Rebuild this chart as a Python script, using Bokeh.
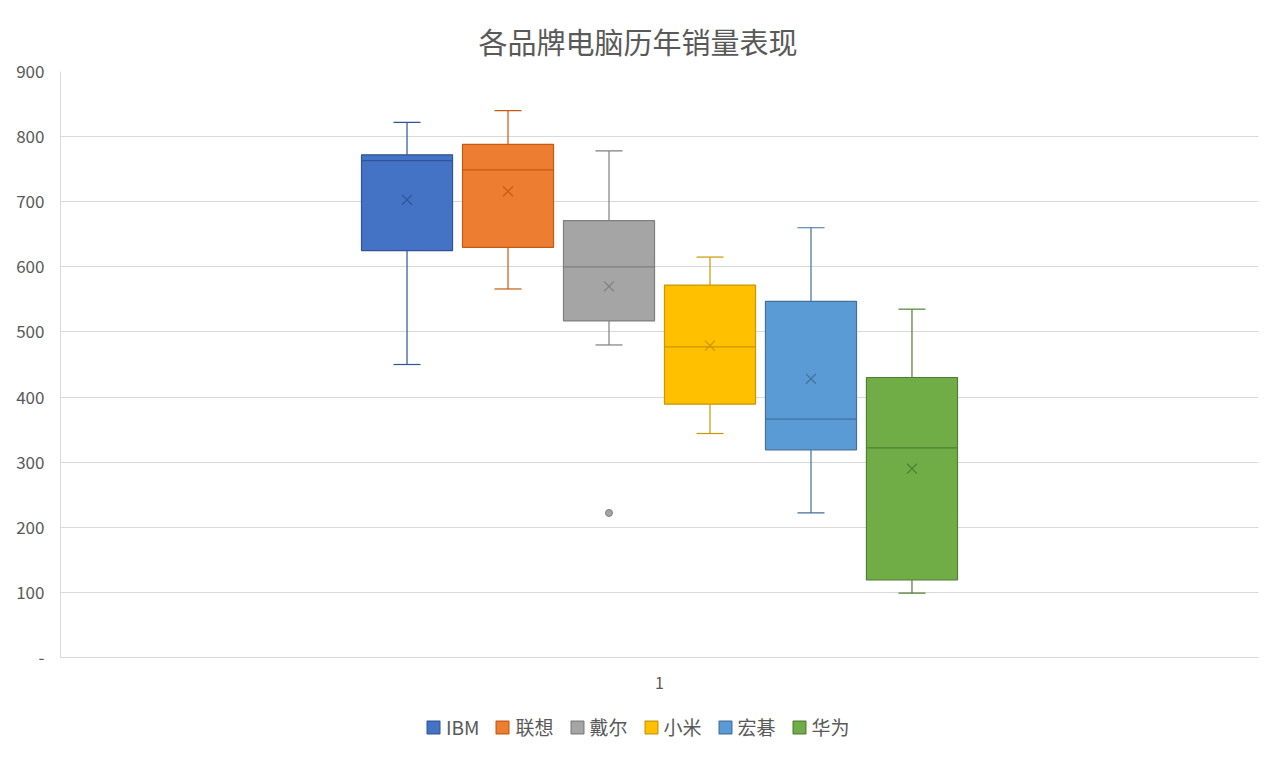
from bokeh.plotting import figure
from bokeh.layouts import column
from bokeh.models import FactorRange, Range1d, Legend, LegendItem, Title, ColumnDataSource, FixedTicker
from bokeh.transform import dodge
from bokeh.embed import file_html
from bokeh.resources import INLINE

# ---- data ----
category = ["1"]
brands = ["IBM", "联想", "戴尔", "小米", "宏碁", "华为"]
whisker_low = [450, 566, 480, 344, 222, 99]
q1 = [625, 630, 517, 389, 319, 119]
median = [763, 749, 600, 477, 366, 322]
q3 = [772, 788, 671, 572, 547, 430]
whisker_high = [822, 840, 778, 615, 660, 535]
mean = [703, 716, 570, 479, 428, 290]
outlier_brand = ["戴尔"]
outlier_value = [222]
y_ticks = [0, 100, 200, 300, 400, 500, 600, 700, 800, 900]
y_tick_labels = ["-", "100", "200", "300", "400", "500", "600", "700", "800", "900"]

# ---- styles ----
fills = ["#4472C4", "#ED7D31", "#A5A5A5", "#FFC000", "#5B9BD5", "#70AD47"]
lines = ["#2F5597", "#C55A11", "#7F7F7F", "#C99700", "#41719C", "#507E32"]
TXT = "#595959"
FONT = "Noto Sans CJK SC"

p = figure(width=1277, height=700, x_range=FactorRange(factors=category, range_padding=0),
           y_range=Range1d(0, 900), output_backend="svg", toolbar_location=None,
           min_border_left=60, min_border_right=19, min_border_top=71, min_border_bottom=43)
p.outline_line_color = None
p.background_fill_color = "white"
p.border_fill_color = "white"

title = Title(text="各品牌电脑历年销量表现", align="left", text_font=FONT, text_font_size="29px",
              text_font_style="normal", text_color=TXT, standoff=20, offset=418)
p.add_layout(title, "above")

p.xgrid.grid_line_color = None
p.ygrid.grid_line_color = "#D9D9D9"
p.ygrid.ticker = FixedTicker(ticks=y_ticks)

p.yaxis.ticker = FixedTicker(ticks=y_ticks)
p.yaxis.major_label_overrides = {t: l for t, l in zip(y_ticks, y_tick_labels)}
p.yaxis.axis_line_color = "#D9D9D9"
p.yaxis.major_tick_line_color = None
p.yaxis.minor_tick_line_color = None
p.yaxis.major_label_text_font = FONT
p.yaxis.major_label_text_font_size = "17px"
p.yaxis.major_label_text_color = TXT
p.yaxis.major_label_standoff = 10

p.xaxis.axis_line_color = "#D9D9D9"
p.xaxis.major_tick_line_color = None
p.xaxis.minor_tick_line_color = None
p.xaxis.major_label_text_font = FONT
p.xaxis.major_label_text_font_size = "16px"
p.xaxis.major_label_text_color = TXT
p.xaxis.major_label_standoff = 13

step = 0.0843
box_w = 0.076

# legend strip below the chart
lg = figure(width=1277, height=66, x_range=Range1d(0, 1), y_range=Range1d(0, 1),
            output_backend="svg", toolbar_location=None,
            x_axis_location=None, y_axis_location=None,
            min_border_left=0, min_border_right=0, min_border_top=0, min_border_bottom=0)
lg.grid.grid_line_color = None
lg.outline_line_color = None
lg.border_fill_color = "white"
lg.background_fill_color = "white"

items = []
for i, b in enumerate(brands):
    off = (i - 2.5) * step
    src = ColumnDataSource(dict(cat=category, lo=[whisker_low[i]], q1=[q1[i]], med=[median[i]],
                                q3=[q3[i]], hi=[whisker_high[i]], mean=[mean[i]]))
    xs = dodge("cat", off, range=p.x_range)
    p.segment(x0=xs, y0="q3", x1=xs, y1="hi", source=src, line_color=lines[i], line_width=1.2)
    p.segment(x0=xs, y0="lo", x1=xs, y1="q1", source=src, line_color=lines[i], line_width=1.2)
    p.scatter(x=xs, y="hi", source=src, marker="dash", size=27, line_color=lines[i], line_width=1.2)
    p.scatter(x=xs, y="lo", source=src, marker="dash", size=27, line_color=lines[i], line_width=1.2)
    p.vbar(x=xs, top="q3", bottom="q1", width=box_w, source=src,
           fill_color=fills[i], line_color=lines[i], line_width=1.2)
    p.segment(x0=dodge("cat", off - box_w / 2, range=p.x_range), y0="med",
              x1=dodge("cat", off + box_w / 2, range=p.x_range), y1="med",
              source=src, line_color=lines[i], line_width=1.2)
    p.scatter(x=xs, y="mean", source=src, marker="x", size=14, line_color=lines[i], line_width=1.2)
    for ob, ov in zip(outlier_brand, outlier_value):
        if ob == b:
            osrc = ColumnDataSource(dict(cat=category, v=[ov]))
            p.scatter(x=xs, y="v", source=osrc, marker="circle", size=7,
                      fill_color=fills[i], line_color=lines[i])
    # hidden stand-in glyph (off-range) that only serves the legend swatch
    dummy = lg.vbar(x=[-10], top=[-10], bottom=[-11], width=0.1,
                    fill_color=fills[i], line_color=lines[i], line_width=1.2)
    items.append(LegendItem(label=b, renderers=[dummy]))

legend = Legend(items=items, orientation="horizontal", location=(365, 26),
                label_text_font=FONT, label_text_font_size="19px", label_text_color=TXT,
                glyph_width=16, glyph_height=16, label_standoff=5, spacing=15,
                border_line_color=None, background_fill_alpha=0, margin=0, padding=0)
lg.add_layout(legend)

open("out.html", "w").write(file_html(column(p, lg, spacing=0), INLINE))
